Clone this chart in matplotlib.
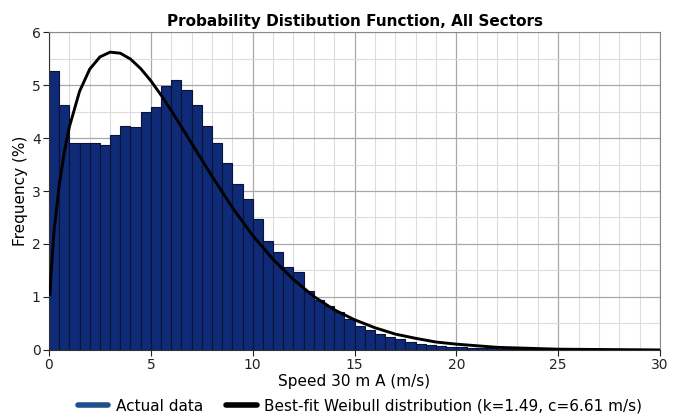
import matplotlib
matplotlib.use("Agg")

import matplotlib.pyplot as plt
import numpy as np
from matplotlib.lines import Line2D
from matplotlib.ticker import MultipleLocator

# wind speed bins (m/s), 0.5 m/s wide
bin_start = np.arange(0, 30, 0.5)

# measured frequency per bin (%)
actual_freq = [
    5.27, 4.62, 3.90, 3.90, 3.90, 3.86, 4.06, 4.23, 4.20, 4.50,
    4.58, 4.98, 5.10, 4.90, 4.62, 4.22, 3.91, 3.52, 3.14, 2.84,
    2.47, 2.06, 1.84, 1.57, 1.48, 1.12, 0.95, 0.83, 0.71, 0.58,
    0.46, 0.38, 0.31, 0.25, 0.20, 0.16, 0.12, 0.09, 0.08, 0.06,
    0.05, 0.04, 0.03, 0.03, 0.02, 0.02, 0.015, 0.012, 0.01, 0.01,
    0.008, 0.006, 0.005, 0.004, 0.004, 0.003, 0.003, 0.002, 0.002, 0.002,
]

# best-fit Weibull curve
fit_speed = [0.05, 0.1, 0.25, 0.5, 0.75, 1.0, 1.5, 2.0, 2.5, 3.0, 3.5, 4.0,
             4.5, 5.0, 5.5, 6.0, 7.0, 8.0, 9.0, 10.0, 11.0, 12.0, 13.0, 14.0,
             15.0, 16.0, 17.0, 18.0, 19.0, 20.0, 22.0, 25.0, 30.0]
fit_freq = [1.05, 1.44, 2.25, 3.11, 3.73, 4.21, 4.88, 5.30, 5.53, 5.62, 5.60, 5.49,
            5.31, 5.08, 4.81, 4.52, 3.90, 3.28, 2.69, 2.16, 1.71, 1.33, 1.01, 0.76,
            0.57, 0.42, 0.30, 0.22, 0.15, 0.11, 0.05, 0.015, 0.001]

bar_color = "#0f2a76"
legend_blue = "#1f4f8c"

plt.rcParams["font.family"] = "DejaVu Sans"

fig = plt.figure(figsize=(6.73, 4.19), dpi=100, facecolor="white")
ax = fig.add_axes([0.0728, 0.1647, 0.908, 0.7589])

ax.bar(bin_start, actual_freq, width=0.5, align="edge",
       color=bar_color, edgecolor="#08123a", linewidth=0.8, zorder=2)
ax.plot(fit_speed, fit_freq, color="black", linewidth=2.1, zorder=3)

ax.set_xlim(0, 30)
ax.set_ylim(0, 6)
ax.xaxis.set_major_locator(MultipleLocator(5))
ax.xaxis.set_minor_locator(MultipleLocator(1))
ax.yaxis.set_major_locator(MultipleLocator(1))
ax.yaxis.set_minor_locator(MultipleLocator(0.5))

ax.grid(which="major", color="#a8a8a8", linewidth=0.9, zorder=0)
ax.grid(which="minor", color="#dcdcdc", linewidth=0.8, zorder=0)
ax.set_axisbelow(True)

ax.tick_params(which="major", direction="out", length=4, width=0.8,
               labelsize=10, colors="#222222", pad=2)
ax.tick_params(which="minor", length=0)

for side in ["top", "right"]:
    ax.spines[side].set_color("#8a8a8a")
for side in ["left", "bottom"]:
    ax.spines[side].set_color("#333333")

ax.set_title("Probability Distibution Function, All Sectors",
             fontsize=11, fontweight="bold", pad=4)
ax.set_xlabel("Speed 30 m A (m/s)", fontsize=11, labelpad=1)
ax.set_ylabel("Frequency (%)", fontsize=11, labelpad=3)

handles = [
    Line2D([0], [0], color=legend_blue, linewidth=4, solid_capstyle="round"),
    Line2D([0], [0], color="black", linewidth=4, solid_capstyle="round"),
]
labels = ["Actual data", "Best-fit Weibull distribution (k=1.49, c=6.61 m/s)"]
fig.legend(handles, labels, loc="center", bbox_to_anchor=(0.535, 0.031),
           ncol=2, frameon=False, fontsize=11, handlelength=2.0,
           handletextpad=0.5, columnspacing=1.5)

fig.savefig("out.png", dpi=100, facecolor="white")
